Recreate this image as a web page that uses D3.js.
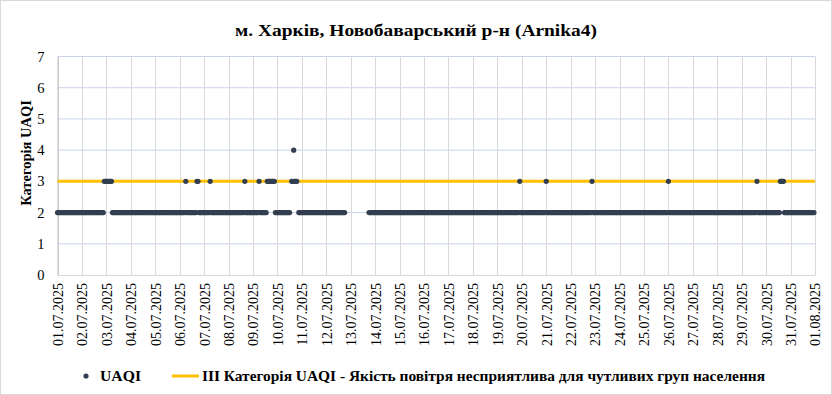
<!DOCTYPE html>
<html>
<head>
<meta charset="utf-8">
<script src="https://cdn.jsdelivr.net/npm/d3@7"></script>
<style>
  body { margin: 0; background: #fff; }
  text { font-family: "Liberation Serif", "Times New Roman", serif; fill: #000; }
</style>
</head>
<body>
<div id="chart"></div>
<script>
// hourly UAQI category, one string per day (24 hours), "-" = no data
var uaqiByDay = [
  "222222222222222222222222", // 01.07
  "222222222222222222222233",
  "333333222222222222222222",
  "222222222222222222222222",
  "222222222222222222222222",
  "222222322222222223322222", // 06.07
  "222222322222222222222222",
  "222222222222222232222222",
  "222222322222223333333322",
  "2222222222222-334333-222", // 10.07
  "222222222222222222222222",
  "2222222222222222222-----",
  "------------------222222",
  "222222222222222222222222",
  "222222222222222222222222",
  "222222222222222222222222", // 16.07
  "222222222222222222222222",
  "222222222222222222222222",
  "222222222222222222222232",
  "222222222222222222222222",
  "322222222222222222222222", // 21.07
  "222222222222222222222322",
  "222222222222222222222222",
  "222222222222222222222222",
  "222222222222222222222222",
  "322222222222222222222222", // 26.07
  "222222222222222222222222",
  "222222222222222222222222",
  "222222222222222322222222",
  "222222222222223333222222",
  "222222222222222222222222"  // 31.07
];
var yTicks = [0, 1, 2, 3, 4, 5, 6, 7];
var thresholdValue = 3;
var seriesName = "UAQI";
var thresholdName = "ІІІ Категорія UAQI - Якість повітря несприятлива для чутливих груп населення";
var titleText = "м. Харків, Новобаварський р-н (Arnika4)";
var yTitle = "Категорія UAQI";

var data = [];
uaqiByDay.forEach(function (s, d) {
  s.split("").forEach(function (c, h) {
    if (c !== "-") data.push({ date: new Date(2025, 6, 1 + d, h), value: +c });
  });
});

var W = 832, H = 395;
var margin = {top: 56.5, right: 17, bottom: 120, left: 57.5};
var svg = d3.select("#chart").append("svg").attr("width", W).attr("height", H);

svg.append("rect").attr("x", 0.5).attr("y", 0.5).attr("width", W - 1).attr("height", H - 1)
  .attr("fill", "#fff").attr("stroke", "#d9d9d9");

var x = d3.scaleTime()
  .domain([new Date(2025, 6, 1), new Date(2025, 7, 1)])
  .range([margin.left, W - margin.right]);
var y = d3.scaleLinear().domain([0, 7]).range([275, margin.top]);

// horizontal grid
svg.append("g").selectAll("line").data(yTicks.slice(1)).enter().append("line")
  .attr("x1", margin.left).attr("x2", W - margin.right)
  .attr("y1", function (d) { return y(d); }).attr("y2", function (d) { return y(d); })
  .attr("stroke", "#c9d4ea").attr("stroke-width", 1);

// vertical grid
var days = x.ticks(d3.timeDay.every(1));
svg.append("g").selectAll("line").data(days).enter().append("line")
  .attr("x1", function (d) { return Math.round(x(d)) + 0.5; }).attr("x2", function (d) { return Math.round(x(d)) + 0.5; })
  .attr("y1", y(7)).attr("y2", y(0))
  .attr("stroke", "#d9d9d9").attr("stroke-width", 1);

// axes
var yAxis = svg.append("g").attr("transform", "translate(" + margin.left + ",0)")
  .call(d3.axisLeft(y).tickValues(yTicks).tickFormat(d3.format("d")).tickSize(0).tickPadding(13))
  .attr("font-family", null).attr("font-size", null);
yAxis.select(".domain").attr("stroke", "#bfbfbf");
yAxis.selectAll("text").style("font-size", "14.5px");

var xAxis = svg.append("g").attr("transform", "translate(0," + y(0) + ")")
  .call(d3.axisBottom(x).ticks(d3.timeDay.every(1)).tickFormat(d3.timeFormat("%d.%m.%Y")).tickSize(0))
  .attr("font-family", null).attr("font-size", null);
xAxis.select(".domain").attr("stroke", "#d9d9d9");
xAxis.selectAll("text")
  .attr("transform", "rotate(-90)")
  .attr("text-anchor", "end")
  .attr("x", -8).attr("y", 0).attr("dy", "0.35em")
  .style("font-size", "14px");

// threshold line
svg.append("line")
  .attr("x1", margin.left).attr("x2", W - margin.right)
  .attr("y1", y(thresholdValue)).attr("y2", y(thresholdValue))
  .attr("stroke", "#ffc000").attr("stroke-width", 3);

// points
svg.append("g").selectAll("circle").data(data).enter().append("circle")
  .attr("cx", function (d) { return x(d.date); })
  .attr("cy", function (d) { return y(d.value); })
  .attr("r", 2.6)
  .attr("fill", "#333f50");

// title
svg.append("text").attr("x", W / 2).attr("y", 36).attr("text-anchor", "middle")
  .attr("textLength", 362).attr("lengthAdjust", "spacingAndGlyphs")
  .style("font-size", "17px").style("font-weight", "bold").text(titleText);

svg.append("text").attr("transform", "translate(31,153) rotate(-90)").attr("text-anchor", "middle")
  .style("font-size", "14.5px").style("font-weight", "bold").text(yTitle);

// legend
var ly = 376;
svg.append("circle").attr("cx", 86).attr("cy", ly).attr("r", 2.6).attr("fill", "#333f50");
svg.append("text").attr("x", 100).attr("y", ly + 5)
  .attr("textLength", 41).attr("lengthAdjust", "spacingAndGlyphs")
  .style("font-size", "14.5px").style("font-weight", "bold").text(seriesName);
svg.append("line").attr("x1", 172).attr("x2", 199).attr("y1", ly).attr("y2", ly)
  .attr("stroke", "#ffc000").attr("stroke-width", 3);
svg.append("text").attr("x", 202).attr("y", ly + 5)
  .attr("textLength", 563).attr("lengthAdjust", "spacingAndGlyphs")
  .style("font-size", "14.5px").style("font-weight", "bold").text(thresholdName);
</script>
</body>
</html>
